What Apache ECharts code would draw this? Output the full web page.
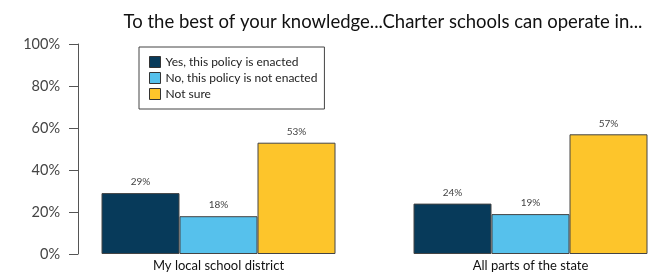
<!DOCTYPE html>
<html>
<head>
<meta charset="utf-8">
<script src="https://cdn.jsdelivr.net/npm/echarts@6/dist/echarts.min.js"></script>
<style>
  html, body { margin: 0; padding: 0; background: #fff; }
  #chart { width: 651px; height: 272px; }
</style>
</head>
<body>
<div id="chart"></div>
<script>
var categories = ['My local school district', 'All parts of the state'];
var seriesNames = ['Yes, this policy is enacted', 'No, this policy is not enacted', 'Not sure'];
var yesValues = [29, 24];
var noValues = [18, 19];
var notSureValues = [53, 57];
var colors = ['#073a5a', '#56c1ec', '#fdc52b'];

var chart = echarts.init(document.getElementById('chart'));

function makeSeries(name, data, color) {
    return {
        name: name,
        type: 'bar',
        data: data,
        barWidth: 78,
        barGap: '0%',
        clip: false,
        itemStyle: { color: color, borderColor: '#444', borderWidth: 1 },
        label: {
            show: true,
            position: 'top',
            distance: 6,
            formatter: '{c}%',
            fontFamily: 'Lato',
            fontSize: 10,
            color: '#444'
        }
    };
}

// category centres sit on the grid edges (boundaryGap false), y axis pulled out to the left
var option = {
    animation: false,
    textStyle: { fontFamily: 'Lato' },
    title: {
        text: 'To the best of your knowledge...Charter schools can operate in...',
        left: 378,
        textAlign: 'center',
        top: 8,
        textStyle: { fontFamily: 'Lato', fontSize: 18.5, fontWeight: 'normal', color: '#111' }
    },
    legend: {
        data: seriesNames,
        orient: 'vertical',
        left: 139,
        top: 47,
        itemWidth: 11,
        itemHeight: 11,
        itemGap: 4,
        padding: [9, 7, 9, 10],
        borderColor: '#444',
        borderWidth: 1,
        backgroundColor: '#fff',
        icon: 'rect',
        itemStyle: { borderColor: '#333', borderWidth: 1 },
        textStyle: { fontFamily: 'Lato', fontSize: 12, color: '#222' }
    },
    grid: { left: 218.5, right: 120.5, top: 44, bottom: 17.5 },
    xAxis: {
        type: 'category',
        data: categories,
        boundaryGap: false,
        axisLine: { show: false },
        axisTick: { show: false },
        axisLabel: { margin: 5, fontFamily: 'Lato', fontSize: 13, color: '#111' }
    },
    yAxis: {
        type: 'value',
        min: 0,
        max: 100,
        interval: 20,
        offset: 140.5,
        axisLine: { show: true, lineStyle: { color: '#555', width: 1 } },
        axisTick: { show: true, length: 9, lineStyle: { color: '#555' } },
        splitLine: { show: false },
        axisLabel: { formatter: '{value}%', margin: 18, fontFamily: 'Lato', fontSize: 14.5, color: '#444' }
    },
    series: [
        makeSeries(seriesNames[0], yesValues, colors[0]),
        makeSeries(seriesNames[1], noValues, colors[1]),
        makeSeries(seriesNames[2], notSureValues, colors[2])
    ]
};

chart.setOption(option);
</script>
</body>
</html>
